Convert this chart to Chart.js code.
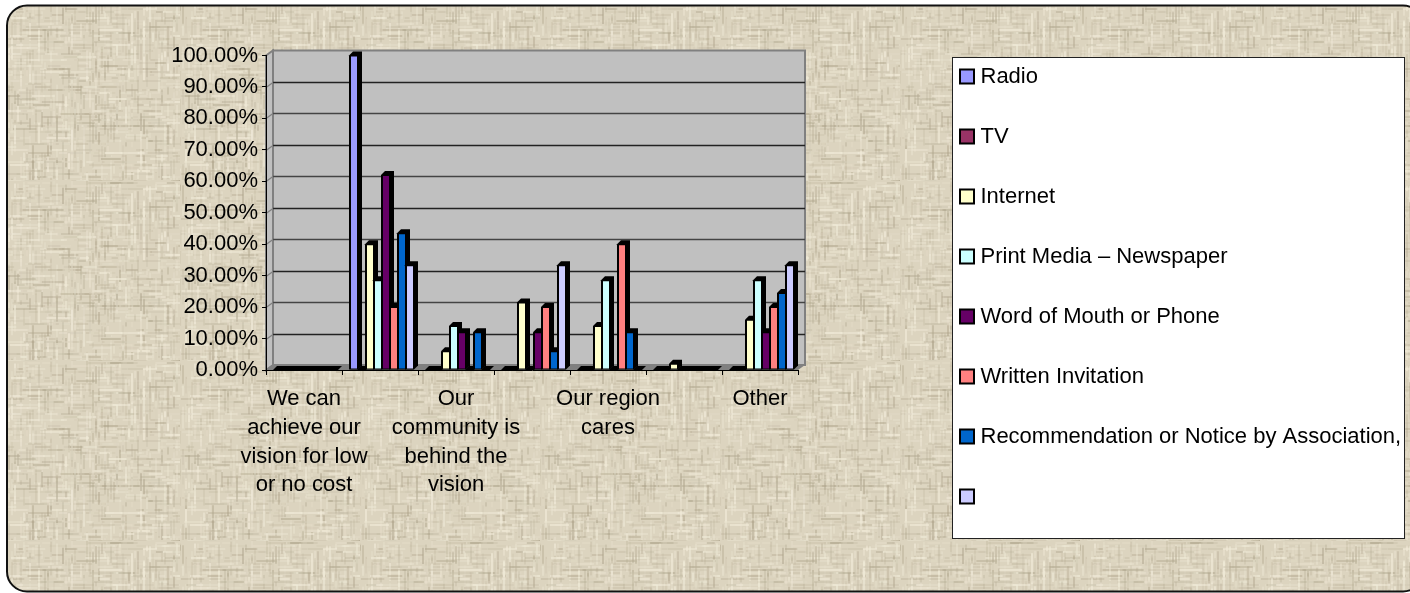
<!DOCTYPE html>
<html>
<head>
<meta charset="utf-8">
<title>Chart</title>
<style>
  html, body { margin: 0; padding: 0; background: #fff; }
  canvas { display: block; }
</style>
<script src="https://cdn.jsdelivr.net/npm/chart.js@4/dist/chart.umd.min.js"></script>
</head>
<body>
<canvas id="chart" width="1410" height="593"></canvas>
<script>
const categories = [
  ["We can", "achieve our", "vision for low", "or no cost"],
  "",
  ["Our", "community is", "behind the", "vision"],
  "",
  ["Our region", "cares"],
  "",
  ["Other"]
];

const radio       = [0, 100, 0, 0, 0, 0, 0];
const tv          = [0, 0, 0, 0, 0, 0, 0];
const internet    = [0, 40, 6, 21.5, 14, 2, 16];
const printMedia  = [0, 28.5, 14, 0, 28.5, 0, 28.5];
const wordOfMouth = [0, 62, 12, 12, 0, 0, 12];
const written     = [0, 20, 0, 20, 40, 0, 20];
const recommended = [0, 43.5, 12, 6, 12, 0, 24.5];
const unnamed     = [0, 33.3, 0, 33.3, 0, 0, 33.3];

// how far the fake 3d goes
const wallX = 7, wallY = 5, barX = 4, barY = 4, barShift = 2;

function makeTexture() {
  const tile = document.createElement("canvas");
  tile.width = 180;
  tile.height = 180;
  const c = tile.getContext("2d");
  c.fillStyle = "#dcd4bf";
  c.fillRect(0, 0, 180, 180);
  let seed = 7;
  const next = () => (seed = (seed * 16807) % 2147483647) / 2147483647;
  c.filter = "blur(0.6px)";
  for (let i = 0; i < 1300; i++) {
    const light = next() > 0.5;
    c.strokeStyle = light ? "rgba(240,234,216," + (0.2 + next() * 0.5) + ")" : "rgba(175,165,140," + (0.15 + next() * 0.35) + ")";
    c.lineWidth = 1 + Math.floor(next() * 1.5);
    const a = Math.floor(next() * 60) * 3, b = next() * 180, len = 4 + next() * 20;
    c.beginPath();
    if (i % 2) { c.moveTo(a, b); c.lineTo(a, b + len); }
    else { c.moveTo(b, a); c.lineTo(b + len, a); }
    c.stroke();
  }
  return tile;
}

const backgroundPlugin = {
  id: "backdrop",
  afterLayout(chart) {
    // legend is placed by hand, its box does not sit next to the plot
    const l = chart.legend;
    l.left = 926.5;
    l.right = 1410;
    l.top = 27.5;
    l.bottom = 593;
  },
  beforeDraw(chart) {
    const ctx = chart.ctx;
    const area = chart.chartArea;
    const y = chart.scales.y;
    ctx.save();
    ctx.fillStyle = "#fff";
    ctx.fillRect(0, 0, chart.width, chart.height);

    // the frame runs off the right side of the picture
    ctx.beginPath();
    ctx.roundRect(7, 5.5, 1416, 586, 20);
    ctx.fillStyle = ctx.createPattern(makeTexture(), "repeat");
    ctx.fill();
    ctx.strokeStyle = "#111";
    ctx.lineWidth = 2;
    ctx.stroke();

    // legend box
    ctx.fillStyle = "#fff";
    ctx.fillRect(952.5, 57.5, 452, 481);
    ctx.strokeStyle = "#222";
    ctx.lineWidth = 1;
    ctx.strokeRect(952.5, 57.5, 452, 481);

    // back wall, side wall and floor
    const l = area.left, r = area.right, t = area.top, b = area.bottom;
    ctx.fillStyle = "#c0c0c0";
    ctx.fillRect(l + wallX, t - wallY, r - l, b - t);
    ctx.beginPath();
    ctx.moveTo(l, t);
    ctx.lineTo(l + wallX, t - wallY);
    ctx.lineTo(l + wallX, b - wallY);
    ctx.lineTo(l, b);
    ctx.closePath();
    ctx.fillStyle = "#c0c0c0";
    ctx.fill();
    ctx.strokeStyle = "#808080";
    ctx.lineWidth = 2;
    ctx.stroke();
    ctx.beginPath();
    ctx.moveTo(l, b);
    ctx.lineTo(l + wallX, b - wallY);
    ctx.lineTo(r + wallX, b - wallY);
    ctx.lineTo(r, b);
    ctx.closePath();
    ctx.fillStyle = "#808080";
    ctx.fill();
    ctx.strokeRect(l + wallX, t - wallY, r - l, b - t);

    // gridlines live on the back wall
    y.ticks.forEach((tick, i) => {
      if (i === 0 || i === y.ticks.length - 1) return;
      const py = Math.round(y.getPixelForValue(tick.value) - wallY) + 0.5;
      ctx.strokeStyle = i % 2 ? "#222" : "#444";
      ctx.lineWidth = 1.4;
      ctx.beginPath();
      ctx.moveTo(l + wallX, py);
      ctx.lineTo(r + wallX, py);
      ctx.stroke();
      ctx.strokeStyle = "#808080";
      ctx.beginPath();
      ctx.moveTo(l, py + wallY);
      ctx.lineTo(l + wallX, py);
      ctx.stroke();
    });
    ctx.restore();
  },
  beforeDatasetsDraw(chart) {
    // left to right so later bars cover the side of earlier ones
    const ctx = chart.ctx;
    ctx.save();
    ctx.translate(barShift, 0);
    chart.data.datasets.forEach((ds, i) => {
      chart.getDatasetMeta(i).data.forEach((bar) => {
        const x0 = bar.x - bar.width / 2 - 1, x1 = bar.x + bar.width / 2;
        ctx.save();
        ctx.fillStyle = "#000";
        ctx.beginPath();
        ctx.moveTo(x0, bar.base);
        ctx.lineTo(x0, bar.y);
        ctx.lineTo(x0 + barX, bar.y - barY);
        ctx.lineTo(x1 + barX, bar.y - barY);
        ctx.lineTo(x1 + barX, bar.base - barY);
        ctx.lineTo(x1, bar.base);
        ctx.closePath();
        ctx.fill();
        ctx.restore();
        bar.draw(ctx);
      });
    });
    ctx.restore();
    return false;
  }
};

function makeSet(label, data, color) {
  return {
    label: label,
    data: data,
    backgroundColor: color,
    borderColor: "#000",
    borderWidth: 1,
    borderSkipped: false,
    barPercentage: 1,
    categoryPercentage: 64 / 76
  };
}

const chart = new Chart(document.getElementById("chart").getContext("2d"), {
  type: "bar",
  data: {
    labels: categories,
    datasets: [
      makeSet("Radio", radio, "#9999ff"),
      makeSet("TV", tv, "#993366"),
      makeSet("Internet", internet, "#ffffcc"),
      makeSet("Print Media – Newspaper", printMedia, "#ccffff"),
      makeSet("Word of Mouth or Phone", wordOfMouth, "#660066"),
      makeSet("Written Invitation", written, "#ff8080"),
      makeSet("Recommendation or Notice by Association,", recommended, "#0066cc"),
      makeSet("", unnamed, "#ccccff")
    ]
  },
  options: {
    responsive: false,
    animation: false,
    // legend slot is kept small, chart.js caps side boxes at a share of the width
    layout: { padding: { left: 166, right: 401.33, top: 55.5, bottom: 93 } },
    scales: {
      x: {
        afterFit(scale) { scale.height = 130; },
        grid: { drawOnChartArea: false, color: "#000", tickLength: 5 },
        border: { color: "#000" },
        ticks: {
          autoSkip: false,
          maxRotation: 0,
          minRotation: 0,
          padding: 10,
          color: "#000",
          font: { family: "'Liberation Sans', Arial, sans-serif", size: 22, lineHeight: 1.3 }
        }
      },
      y: {
        min: 0,
        max: 100,
        afterFit(scale) { scale.width = 100; },
        grid: { drawOnChartArea: false, color: "#000", tickLength: 4 },
        border: { color: "#000" },
        ticks: {
          stepSize: 10,
          padding: 4,
          color: "#000",
          callback: (v) => v.toFixed(2) + "%",
          font: { family: "'Liberation Sans', Arial, sans-serif", size: 22 }
        }
      }
    },
    plugins: {
      tooltip: { enabled: false },
      legend: {
        position: "right",
        align: "start",
        labels: {
          usePointStyle: true,
          pointStyle: "rect",
          boxWidth: 5,
          boxHeight: 14,
          padding: 38,
          color: "#000",
          font: { family: "'Liberation Sans', Arial, sans-serif", size: 22 },
          generateLabels(chart) {
            const items = Chart.defaults.plugins.legend.labels.generateLabels(chart);
            items.forEach((item) => { item.lineWidth = 2; });
            return items;
          }
        }
      }
    }
  },
  plugins: [backgroundPlugin, {
    id: "legendWidth",
    beforeLayout(chart) {
      chart.legend.afterFit = function () { this.width = 200; };
    }
  }]
});
</script>
</body>
</html>
